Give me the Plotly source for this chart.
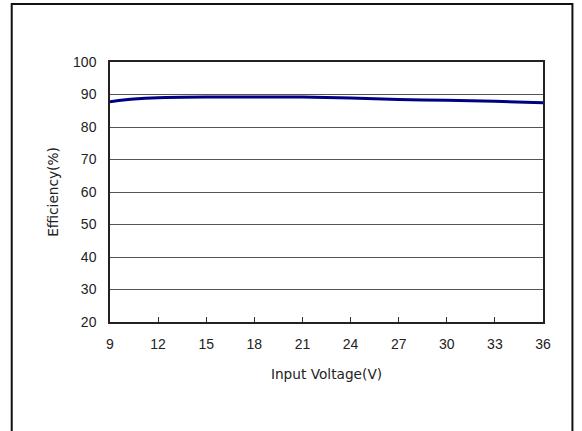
import plotly.graph_objects as go

voltage = [9, 10.5, 12, 15, 18, 21, 24, 27, 30, 33, 36]
efficiency = [87.8, 88.6, 89.0, 89.2, 89.2, 89.2, 88.9, 88.5, 88.2, 87.9, 87.5]
x_ticks = [9, 12, 15, 18, 21, 24, 27, 30, 33, 36]
y_ticks = [20, 30, 40, 50, 60, 70, 80, 90, 100]

W, H = 582, 431
L, R, T, B = 109.5, 543.5, 62, 322

fig = go.Figure()
fig.add_trace(go.Scatter(x=voltage, y=efficiency, mode="lines",
                         line=dict(color="#000080", width=3, shape="spline", smoothing=0.6),
                         showlegend=False, hoverinfo="skip"))

tick_font = dict(family="Liberation Sans, Arial, sans-serif", size=14, color="#222222")
title_font = dict(family="DejaVu Sans, sans-serif", size=13.7, color="#222222")

fig.update_layout(
    width=W, height=H,
    margin=dict(l=L, r=W - R, t=T, b=H - B, pad=0),
    paper_bgcolor="white", plot_bgcolor="white",
    font=tick_font,
    xaxis=dict(range=[9, 36], tickvals=x_ticks, ticktext=[str(v) for v in x_ticks],
               tickfont=tick_font,
               showgrid=False, zeroline=False, showline=True, linecolor="#222222", linewidth=1.5,
               mirror=True, ticks="inside", ticklen=5, tickcolor="#333333", tickwidth=1,
               ticklabelstandoff=8,
               title=dict(text="Input Voltage(V)", font=title_font, standoff=19)),
    yaxis=dict(range=[20, 100], tickvals=y_ticks, ticktext=[str(v) for v in y_ticks],
               tickfont=tick_font,
               showgrid=True, gridcolor="#555555", gridwidth=1, zeroline=False,
               showline=True, linecolor="#222222", linewidth=1.5, mirror=True,
               ticks="", ticklabelstandoff=9,
               title=dict(text="Efficiency(%)", font=title_font, standoff=11)),
)

# outer chart frame (page pixel coordinates converted to paper fractions)
pw, ph = R - L, B - T
def px_x(p):
    return (p - L) / pw
def px_y(p):
    return (B - p) / ph
fig.add_shape(type="rect", xref="paper", yref="paper",
              x0=px_x(11), x1=px_x(573), y0=px_y(440), y1=px_y(4),
              line=dict(color="#111111", width=2), fillcolor="rgba(0,0,0,0)", layer="below")

fig.write_html("out.html", config={"displayModeBar": False},
               post_script="document.body.style.margin='0';")
